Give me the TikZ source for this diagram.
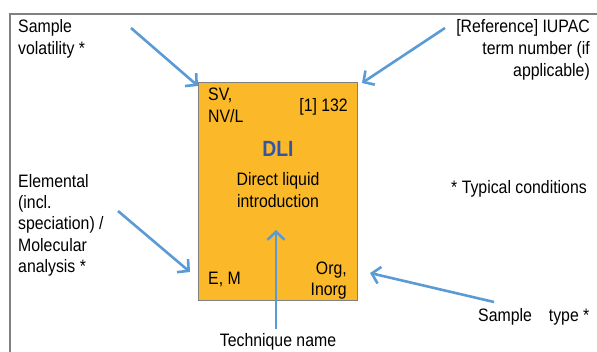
\documentclass[tikz,border=0pt]{standalone}
\usepackage{fontspec}
\setmainfont{Liberation Sans}[FakeStretch=0.88]
\usetikzlibrary{arrows.meta}
\definecolor{boxorange}{RGB}{251,185,41}
\definecolor{arrowblue}{RGB}{91,155,213}
\definecolor{dliblue}{RGB}{52,84,170}
\definecolor{framegray}{RGB}{128,128,128}
\begin{document}
\begin{tikzpicture}[x=1pt,y=-1pt,
  lbl/.style={inner sep=0pt, font=\fontsize{18}{22}\selectfont},
  ptr/.style={draw=arrowblue, line width=2.6pt, -{Straight Barb[length=8pt,width=17pt]}},
  techbox/.style={draw=framegray, line width=1pt, fill=boxorange}]
\useasboundingbox (0,0) rectangle (597,352);
% frame
\draw[framegray, line width=1.5pt] (597,14) -- (10,14) -- (10,352);
% box
\draw[techbox] (198,83) rectangle (357,301);
% labels in box
\node[lbl, anchor=north west, align=left] (sv) at (208,88) {SV,\\NV/L};
\node[lbl, anchor=base east] (ref1) at (348,112) {[1] 132};
\node[inner sep=0pt, anchor=base, font=\fontsize{22}{24}\selectfont\bfseries, text=dliblue] (dli) at (278,157) {DLI};
\node[lbl, anchor=north, align=center] (dname) at (278,172) {Direct liquid\\introduction};
\node[lbl, anchor=base west] (em) at (208,285) {E, M};
\node[lbl, anchor=north east, align=right, font=\fontsize{18}{20.5}\selectfont] (org) at (347,262) {Org,\\Inorg};
% outer labels
\node[lbl, anchor=north west, align=left] (vol) at (18,19) {Sample\\volatility *};
\node[lbl, anchor=north east, align=right] (iupac) at (590,19) {[Reference] IUPAC\\term number (if\\applicable)};
\node[lbl, anchor=north west, align=left, font=\fontsize{18}{21.3}\selectfont] (elem) at (18,174) {Elemental\\(incl.\\speciation) /\\Molecular\\analysis *};
\node[lbl, anchor=base west] (typ) at (451,194) {* Typical conditions};
\node[lbl, anchor=base west] (stype) at (478,322) {Sample\hspace*{17pt}type *};
\node[lbl, anchor=base] (tech) at (278,347) {Technique name};
% arrow endpoints
\coordinate (a1s) at (131,28);
\coordinate (a1e) at (198,86);
\coordinate (a2s) at (445,28);
\coordinate (a2e) at (362,83);
\coordinate (a3s) at (118,211);
\coordinate (a3e) at (190,272);
\coordinate (a4s) at (494,302);
\coordinate (a4e) at (370,273);
\coordinate (a5s) at (276,329);
\coordinate (a5e) at (276,230);
\draw[ptr] (a1s) -- (a1e);
\draw[ptr] (a2s) -- (a2e);
\draw[ptr] (a3s) -- (a3e);
\draw[ptr] (a4s) -- (a4e);
\draw[ptr] (a5s) -- (a5e);
\end{tikzpicture}
\end{document}
